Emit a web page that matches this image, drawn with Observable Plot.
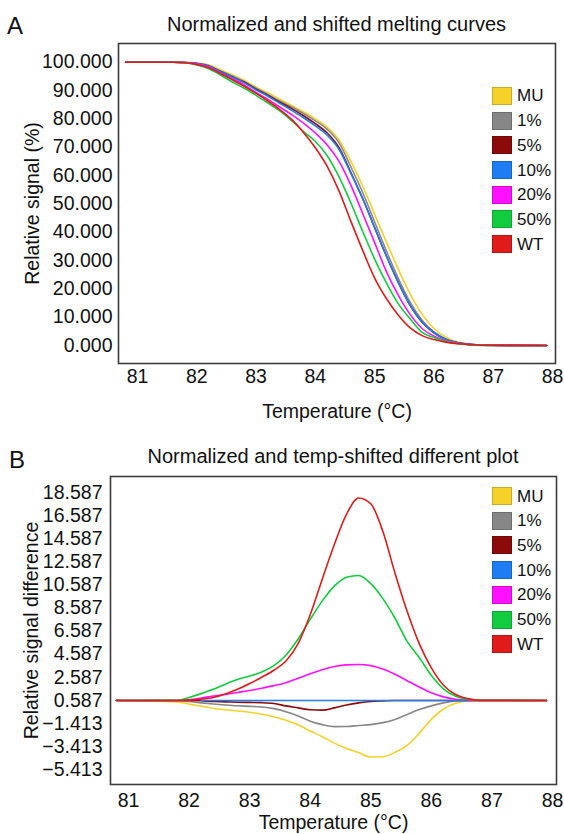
<!DOCTYPE html>
<html><head><meta charset="utf-8">
<script src="https://cdn.jsdelivr.net/npm/d3@7"></script>
<script src="https://cdn.jsdelivr.net/npm/@observablehq/plot@0.6"></script>
<style>
body{margin:0;background:#fff;font-family:"Liberation Sans",Arial,Helvetica,sans-serif;}
#root{position:relative;width:564px;height:834px;overflow:hidden;background:#fff;}
.t{position:absolute;white-space:nowrap;color:#111;line-height:1;}
.svgbox{position:absolute;left:0;}
.sw{position:absolute;width:20px;height:18px;box-sizing:border-box;border:1px solid rgba(0,0,0,0.18);}
.lg{position:absolute;font-size:17px;line-height:1;color:#111;white-space:nowrap;}
</style></head>
<body><div id="root"></div>
<script>
// ---------- data ----------
const seriesNames  = ["MU", "1%", "5%", "10%", "20%", "50%", "WT"];
const seriesColors = ["#f6d12a", "#878787", "#8b0a0a", "#1f7cf2", "#ff10ff", "#12cc40", "#e01b1b"];

const xTicks = [81, 82, 83, 84, 85, 86, 87, 88];
const yTicksA = [0, 10, 20, 30, 40, 50, 60, 70, 80, 90, 100];
const yTicksB = [-5.413, -3.413, -1.413, 0.587, 2.587, 4.587, 6.587, 8.587, 10.587, 12.587, 14.587, 16.587, 18.587];

// Panel A: normalized melting curves (relative signal, %)
const tempsA = [80.8, 81.6, 81.8, 82.0, 82.2, 82.4, 82.6, 82.8, 83.0, 83.2, 83.4, 83.6, 83.8, 84.0, 84.2, 84.4, 84.6, 84.8, 85.0, 85.2, 85.4, 85.6, 85.8, 86.0, 86.2, 86.4, 86.6, 86.8, 87.9];
const aMU  = [100, 100, 99.9, 99.7, 99.1, 97.3, 95.5, 93.6, 91.2, 89.2, 86.9, 84.7, 82.5, 80.0, 77.0, 72.5, 65.0, 56.2, 46.3, 36.4, 26.9, 18.1, 11.0, 6.0, 2.9, 1.2, 0.5, 0.1, 0];
const a1   = [100, 100, 99.9, 99.6, 98.8, 96.9, 95.1, 93.2, 90.8, 88.6, 86.3, 84.2, 81.9, 79.3, 76.3, 71.5, 63.0, 53.9, 43.6, 33.3, 23.6, 15.2, 8.9, 4.8, 2.3, 1.0, 0.4, 0.1, 0];
const a5   = [100, 100, 99.9, 99.5, 98.6, 96.7, 94.8, 92.9, 90.5, 88.3, 85.9, 83.6, 81.1, 78.3, 75.0, 69.8, 61.0, 51.8, 41.6, 31.5, 22.2, 14.1, 8.2, 4.5, 2.1, 1.0, 0.4, 0.1, 0];
const a10  = [100, 100, 99.9, 99.5, 98.6, 96.6, 94.7, 92.7, 90.2, 88.0, 85.5, 83.0, 80.4, 77.5, 74.2, 69.2, 60.7, 51.7, 41.6, 31.5, 22.2, 14.1, 8.2, 4.5, 2.1, 1.0, 0.4, 0.1, 0];
const a20  = [100, 100, 99.9, 99.4, 98.3, 96.2, 94.1, 92.0, 89.3, 86.9, 84.2, 81.5, 78.5, 75.0, 70.8, 65.0, 56.5, 46.5, 36.3, 26.0, 17.7, 10.9, 6.0, 3.3, 1.7, 0.8, 0.3, 0.1, 0];
const a50  = [100, 100, 99.8, 99.0, 97.7, 95.5, 93.0, 90.8, 88.3, 85.6, 82.8, 79.4, 75.5, 72.0, 67.0, 59.5, 50.3, 40.2, 30.5, 22.0, 14.7, 9.4, 4.6, 2.8, 1.5, 0.6, 0.2, 0.05, 0];
const aWT  = [100, 100, 99.8, 99.2, 98.0, 96.0, 93.8, 91.5, 89.0, 86.3, 83.3, 79.8, 75.2, 69.8, 63.2, 54.5, 43.8, 33.5, 23.8, 16.5, 10.7, 6.2, 3.5, 2.1, 1.2, 0.6, 0.3, 0.1, 0];

// Panel B: temp-shifted difference plot
const tempsB = [80.8, 81.8, 82.0, 82.2, 82.4, 82.6, 82.8, 83.0, 83.2, 83.4, 83.6, 83.8, 84.0, 84.2, 84.4, 84.6, 84.8, 85.0, 85.2, 85.4, 85.6, 85.8, 86.0, 86.2, 86.4, 86.6, 86.8, 87.9];
const bMU  = [0.587, 0.45, 0.28, 0.1, -0.1, -0.22, -0.32, -0.43, -0.6, -0.82, -1.12, -1.52, -2.05, -2.55, -3.1, -3.56, -3.92, -4.3, -4.28, -3.9, -3.3, -2.25, -1.05, -0.15, 0.35, 0.55, 0.587, 0.587];
const b1   = [0.587, 0.587, 0.5, 0.38, 0.28, 0.2, 0.13, 0.08, 0.02, -0.12, -0.38, -0.75, -1.2, -1.5, -1.67, -1.66, -1.58, -1.5, -1.33, -1.05, -0.62, -0.2, 0.12, 0.38, 0.55, 0.587, 0.587, 0.587];
const b5   = [0.587, 0.587, 0.587, 0.56, 0.5, 0.47, 0.44, 0.42, 0.4, 0.33, 0.12, -0.05, -0.22, -0.25, -0.05, 0.2, 0.38, 0.5, 0.55, 0.587, 0.587, 0.587, 0.587, 0.587, 0.587, 0.587, 0.587, 0.587];
const b10  = [null, null, null, 0.587, 0.587, 0.587, 0.587, 0.587, 0.587, 0.587, 0.587, 0.587, 0.587, 0.587, 0.587, 0.587, 0.587, 0.587, 0.587, 0.587, 0.587, 0.587, 0.587, 0.587, 0.587, 0.587, null, null];
const b20  = [0.587, 0.587, 0.65, 0.8, 0.97, 1.1, 1.28, 1.45, 1.65, 1.87, 2.13, 2.5, 2.9, 3.25, 3.52, 3.67, 3.7, 3.6, 3.3, 2.85, 2.3, 1.75, 1.25, 0.9, 0.7, 0.6, 0.587, 0.587];
const b50  = [0.587, 0.6, 0.85, 1.18, 1.55, 2.0, 2.4, 2.7, 3.05, 3.6, 4.5, 5.9, 7.6, 9.2, 10.5, 11.25, 11.4, 10.7, 9.4, 7.7, 5.7, 4.3, 2.75, 1.6, 0.95, 0.7, 0.6, 0.587];
const bWT  = [0.587, 0.587, 0.62, 0.7, 0.85, 1.15, 1.55, 2.05, 2.6, 3.2, 4.0, 5.5, 8.0, 11.1, 14.1, 16.7, 18.1, 17.6, 15.2, 11.6, 8.3, 5.5, 3.4, 1.9, 1.1, 0.75, 0.6, 0.587];

const valuesA = [aMU, a1, a5, a10, a20, a50, aWT];
const valuesB = [bMU, b1, b5, b10, b20, b50, bWT];
const drawOrderA = [0, 1, 2, 3, 4, 5, 6];
const drawOrderB = [0, 1, 2, 4, 5, 6, 3];

// ---------- layout helpers ----------
const root = document.getElementById("root");
const FONT = '"Liberation Sans", Arial, Helvetica, sans-serif';

function addText(str, x, cy, size, center) {
  const d = document.createElement("div");
  d.className = "t";
  d.textContent = str;
  d.style.fontSize = size + "px";
  d.style.left = x + "px";
  d.style.top = (cy - size * 0.49) + "px";
  if (center) d.style.transform = "translateX(-50%)";
  root.appendChild(d);
}

function addLegend(x, cy0, step) {
  seriesNames.forEach((name, i) => {
    const cy = cy0 + i * step;
    const s = document.createElement("div");
    s.className = "sw";
    s.style.left = x + "px";
    s.style.top = (cy - 9) + "px";
    s.style.background = seriesColors[i];
    root.appendChild(s);
    const l = document.createElement("div");
    l.className = "lg";
    l.textContent = name;
    l.style.left = (x + 25) + "px";
    l.style.top = (cy - 17 * 0.49) + "px";
    root.appendChild(l);
  });
}

function panel(o) {
  const rows = [];
  o.order.forEach(i => {
    o.values[i].forEach((v, j) => {
      if (v !== null) rows.push({t: o.temps[j], v: v, s: seriesNames[i]});
    });
  });
  const chart = Plot.plot({
    width: 564,
    height: o.height,
    marginTop: o.mt, marginBottom: o.mb, marginLeft: o.ml, marginRight: o.mr,
    style: {fontFamily: FONT, fontSize: "19.5px", color: "#111", background: "transparent", overflow: "visible"},
    x: {domain: o.xDomain},
    y: {domain: o.yDomain},
    color: {domain: seriesNames, range: seriesColors},
    marks: [
      Plot.axisX({ticks: xTicks, tickSize: 0, tickPadding: o.xPad, tickFormat: d => String(d),
        label: "Temperature (°C)", labelAnchor: "center", labelOffset: o.xLabelOffset, labelArrow: "none", fontSize: 19.5}),
      Plot.axisY({ticks: o.yTicks, tickSize: 0, tickPadding: o.yPad, tickFormat: d3.format(".3f"),
        label: o.yLabel, labelAnchor: "center", labelOffset: o.yLabelOffset, labelArrow: "none", fontSize: 19.5}),
      Plot.line(rows, {x: "t", y: "v", z: "s", stroke: "s", strokeWidth: 1.6, curve: "monotone-x"}),
      Plot.frame({stroke: "#3c3c3c", strokeWidth: 1.6})
    ]
  });
  const box = document.createElement("div");
  box.className = "svgbox";
  box.style.top = o.top + "px";
  box.appendChild(chart);
  root.appendChild(box);
}

// ---------- panel A ----------
addText("A", 7, 26, 24, false);
addText("Normalized and shifted melting curves", 336.5, 24, 20, true);
panel({
  top: 40, height: 390, mt: 3, mb: 67, ml: 118, mr: 9,
  temps: tempsA, values: valuesA, order: drawOrderA,
  xDomain: [80.68, 88.05], yDomain: [-6.35, 106.6],
  yTicks: yTicksA, yLabel: "Relative signal (%)",
  xPad: 6, yPad: 6, xLabelOffset: 54, yLabelOffset: 93
});
addLegend(492, 95.8, 24.7);

// ---------- panel B ----------
addText("B", 9, 459.5, 24, false);
addText("Normalized and temp-shifted different plot", 333, 456, 20, true);
panel({
  top: 470, height: 364, mt: 6, mb: 50, ml: 110, mr: 8,
  temps: tempsB, values: valuesB, order: drawOrderB,
  xDomain: [80.703, 88.066], yDomain: [-6.68, 19.96],
  yTicks: yTicksB, yLabel: "Relative signal difference",
  xPad: 9, yPad: 8, xLabelOffset: 44, yLabelOffset: 86
});
addLegend(492, 496, 24.7);
</script>
</body></html>
